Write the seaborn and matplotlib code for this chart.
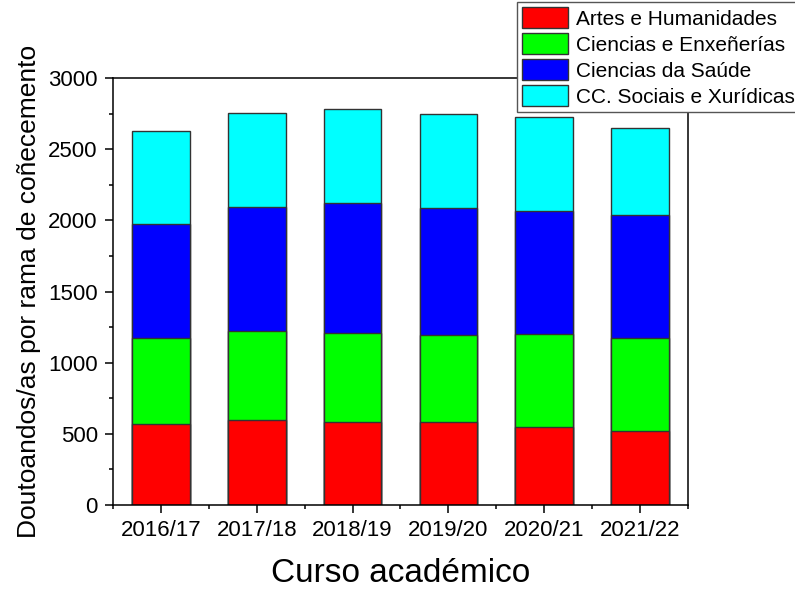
import numpy as np
import pandas as pd
import seaborn as sns
import matplotlib.pyplot as plt
from matplotlib.patches import Patch
from matplotlib.ticker import MultipleLocator, FixedLocator

cursos = ["2016/17", "2017/18", "2018/19", "2019/20", "2020/21", "2021/22"]
artes = [571, 595, 586, 581, 548, 518]
enxenerias = [605, 628, 623, 616, 651, 658]
saude = [799, 873, 913, 893, 869, 860]
sociais = [653, 656, 661, 655, 657, 616]

ramas = ["Artes e Humanidades", "Ciencias e Enxeñerías",
         "Ciencias da Saúde", "CC. Sociais e Xurídicas"]
cores = ["#ff0000", "#00ff00", "#0000ff", "#00ffff"]


def main():
    df = pd.DataFrame({"curso": cursos, ramas[0]: artes, ramas[1]: enxenerias,
                       ramas[2]: saude, ramas[3]: sociais})
    # cumulative sums so each layer can be drawn over the next one
    cum = df[ramas].cumsum(axis=1)
    cum["curso"] = df["curso"]

    sns.set_style("ticks")
    plt.rcParams["font.family"] = ["Liberation Sans", "DejaVu Sans"]
    plt.rcParams.update({"text.color": "black", "axes.labelcolor": "black",
                         "xtick.color": "black", "ytick.color": "black"})

    fig = plt.figure(figsize=(7.95, 5.89), dpi=100)
    ax = fig.add_axes([113 / 795, 1 - 505 / 589, 575 / 795, 427 / 589])

    for rama, cor in reversed(list(zip(ramas, cores))):
        sns.barplot(data=cum, x="curso", y=rama, color=cor, width=0.6,
                    edgecolor="#333333", linewidth=1.0, saturation=1, ax=ax)

    ax.set_xlim(-0.5, 5.5)
    ax.set_ylim(0, 3000)
    ax.yaxis.set_major_locator(MultipleLocator(500))
    ax.yaxis.set_minor_locator(MultipleLocator(250))
    ax.xaxis.set_minor_locator(FixedLocator(np.arange(-0.5, 6.0, 1.0)))

    for s in ax.spines.values():
        s.set_visible(True)
        s.set_linewidth(1.1)
        s.set_color("black")
    ax.tick_params(which="major", length=6, width=1.1, labelsize=16, pad=5,
                   color="black")
    ax.tick_params(which="minor", length=3, width=1.1, color="black")

    ax.set_xlabel("Curso académico", fontsize=24, labelpad=12)
    ax.set_ylabel("Doutoandos/as por rama de coñecemento", fontsize=19, labelpad=5)

    handles = [Patch(facecolor=c, edgecolor="#333333", linewidth=1.0, label=r)
               for r, c in zip(ramas, cores)]
    fig.legend(handles=handles, loc="lower left",
               bbox_to_anchor=(517 / 795, 1 - 112 / 589), borderaxespad=0,
               fontsize=15, handlelength=2.2, handleheight=1.15,
               handletextpad=0.4, labelspacing=0.22, borderpad=0.25,
               fancybox=False, edgecolor="#555555", framealpha=1)

    fig.savefig("out.png", dpi=100)


if __name__ == "__main__":
    main()
